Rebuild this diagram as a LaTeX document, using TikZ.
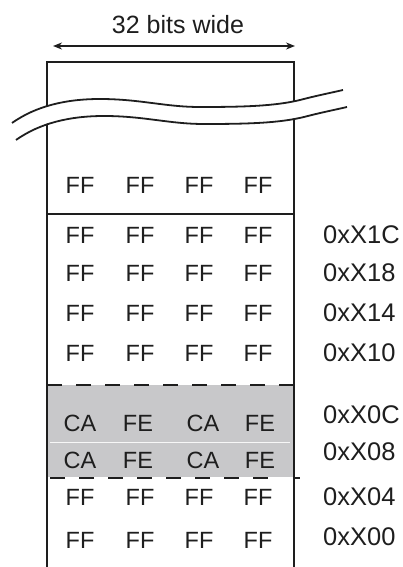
\documentclass[tikz,border=0pt]{standalone}
\usepackage{fontspec}
\setmainfont{Liberation Sans}
\usetikzlibrary{arrows.meta}
\definecolor{greyfill}{RGB}{200,200,202}
\definecolor{ink}{RGB}{30,30,30}
\begin{document}
\begin{tikzpicture}[x=1pt,y=-1pt,
  cell/.style={font=\fontsize{23.5}{25}\selectfont, text=ink, inner sep=0pt},
  addr/.style={font=\fontsize{25.5}{27}\selectfont, text=ink, inner sep=0pt, anchor=west},
  border/.style={line width=2pt, draw=ink},
  dashline/.style={line width=2pt, draw=ink, dash pattern=on 15pt off 14pt},
  wave/.style={line width=1.8pt, draw=ink}]
\useasboundingbox (0,0) rectangle (403,567);
% title and arrow
\node[font=\fontsize{25}{27}\selectfont, text=ink, inner sep=0pt] (title) at (178,25) {32 bits wide};
\coordinate (al) at (53,46);
\coordinate (ar) at (295,46);
\draw[line width=1.6pt, draw=ink, {Stealth[length=9pt,width=7pt]}-{Stealth[length=9pt,width=7pt]}] (al) -- (ar);
% gray block
\fill[greyfill] (47,385) rectangle (293,477);
\draw[white!85!greyfill, line width=0.8pt] (50,442) -- (290,442);
% box
\coordinate (tl) at (47,62);
\coordinate (tr) at (294,62);
\coordinate (bl) at (47,567);
\coordinate (br) at (294,567);
\draw[border] (bl) -- (tl) -- (tr) -- (br);
\draw[border] (47,214) -- (294,214);
\draw[border] (294,478) -- (300,478);
\draw[dashline] (47,385) -- (294,385);
\draw[dashline] (50,478) -- (280,478);
% break
\draw[white, line width=16pt] (14,131.5) .. controls (42,112.5) and (70,107.5) .. (102,107.5)
  .. controls (142,107.5) and (167,115.5) .. (202,115.5)
  .. controls (247,115.5) and (277,114.5) .. (302,108.5)
  .. controls (317,104.5) and (332,101.5) .. (345,98.5);
\draw[wave] (12,123) .. controls (36,106) and (66,99) .. (100,99)
  .. controls (140,99) and (165,107) .. (200,107)
  .. controls (245,107) and (275,106) .. (300,100)
  .. controls (315,96) and (330,93) .. (343,90);
\begin{scope}[shift={(4,17)}]
\draw[wave] (12,123) .. controls (36,106) and (66,99) .. (100,99)
  .. controls (140,99) and (165,107) .. (200,107)
  .. controls (245,107) and (275,106) .. (300,100)
  .. controls (315,96) and (330,93) .. (343,90);
\end{scope}
% cells
\foreach \y [count=\r] in {185,235,273,313,353,497,540} {
  \foreach \x [count=\c] in {80,140,199,258} {
    \node[cell] (ff\r\c) at (\x,\y) {FF};
  }
}
\foreach \y [count=\r] in {423,460} {
  \node[cell] (ca\r a) at (80,\y) {CA};
  \node[cell] (fe\r a) at (138,\y) {FE};
  \node[cell] (ca\r b) at (203,\y) {CA};
  \node[cell] (fe\r b) at (260,\y) {FE};
}
% addresses
\node[addr] (a1c) at (323,235) {0xX1C};
\node[addr] (a18) at (323,273) {0xX18};
\node[addr] (a14) at (323,313) {0xX14};
\node[addr] (a10) at (323,353) {0xX10};
\node[addr] (a0c) at (323,415) {0xX0C};
\node[addr] (a08) at (323,452) {0xX08};
\node[addr] (a04) at (323,497) {0xX04};
\node[addr] (a00) at (323,537) {0xX00};
\end{tikzpicture}
\end{document}
